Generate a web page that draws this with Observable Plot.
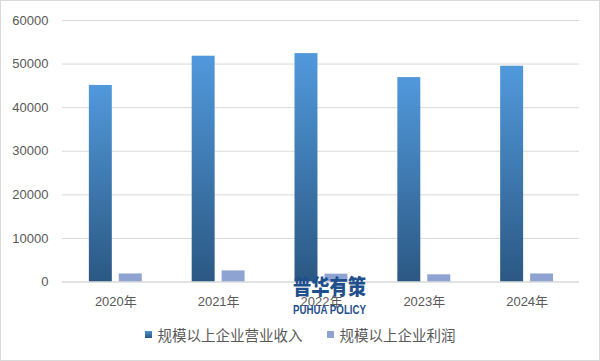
<!DOCTYPE html>
<html>
<head>
<meta charset="utf-8">
<script src="https://cdn.jsdelivr.net/npm/d3@7"></script>
<script src="https://cdn.jsdelivr.net/npm/@observablehq/plot@0.6"></script>
<style>
  html, body { margin: 0; padding: 0; background: #fff; }
  #wrap { position: relative; width: 598px; height: 359px; border: 1px solid #d9d9d9; overflow: hidden; background: #fff;
          font-family: "Liberation Sans", "Noto Sans CJK SC", sans-serif; }
  #chart { position: absolute; left: -1px; top: -1px; }
  #legend { position: absolute; left: 0; top: 323px; width: 598px; display: flex; justify-content: center; gap: 24px;
            font-family: "Noto Sans CJK SC", sans-serif; font-size: 14.5px; color: #595959; }
  .item { display: flex; align-items: center; gap: 6px; }
  .sw { width: 7px; height: 7px; display: inline-block; }
  #wm { position: absolute; left: 0; top: 0; pointer-events: none; }
</style>
</head>
<body>
<div id="wrap">
  <div id="chart"></div>
  <svg id="wm" width="600" height="361"></svg>
  <div id="legend"></div>
</div>
<script>
const years = ["2020年", "2021年", "2022年", "2023年", "2024年"];
const revenue = [45100, 51800, 52400, 46900, 49500];
const profit = [1850, 2550, 1800, 1650, 1850];
const seriesNames = ["规模以上企业营业收入", "规模以上企业利润"];
const yTicks = [0, 10000, 20000, 30000, 40000, 50000, 60000];
const watermark = ["普华有策", "PUHUA POLICY"];

const revData = years.map((y, i) => ({year: y, series: seriesNames[0], value: revenue[i]}));
const profData = years.map((y, i) => ({year: y, series: seriesNames[1], value: profit[i]}));

const chart = Plot.plot({
  width: 600,
  height: 315,
  marginLeft: 62,
  marginRight: 20,
  marginTop: 20,
  marginBottom: 33,
  style: {fontFamily: '"Liberation Sans", "Noto Sans CJK SC", sans-serif', fontSize: "13px", color: "#595959", background: "transparent"},
  x: {domain: years, paddingInner: 0.778, paddingOuter: 0.389, label: null, tickSize: 0, tickPadding: 15},
  y: {domain: [0, 60000], label: null, ticks: yTicks, tickSize: 0, tickPadding: 14, tickFormat: d => String(d)},
  marks: [
    Plot.gridY(yTicks, {stroke: "#d9d9d9", strokeOpacity: 1}),
    Plot.barY(revData, {x: "year", y: "value", fill: "url(#revGrad)", dx: -15}),
    Plot.barY(profData, {x: "year", y: "value", fill: "#8fa3d3", dx: 15}),
    Plot.ruleY([0], {stroke: "#d9d9d9"})
  ]
});

const NS = "http://www.w3.org/2000/svg";
const defs = document.createElementNS(NS, "defs");
const grad = document.createElementNS(NS, "linearGradient");
grad.setAttribute("id", "revGrad");
grad.setAttribute("x1", "0"); grad.setAttribute("y1", "0");
grad.setAttribute("x2", "0"); grad.setAttribute("y2", "1");
[["0%", "#5199dc"], ["100%", "#2b5883"]].forEach(([o, c]) => {
  const s = document.createElementNS(NS, "stop");
  s.setAttribute("offset", o); s.setAttribute("stop-color", c);
  grad.appendChild(s);
});
defs.appendChild(grad);
chart.insertBefore(defs, chart.firstChild);
document.getElementById("chart").appendChild(chart);

// legend
const legend = document.getElementById("legend");
const swatches = ["linear-gradient(#4a8fd0, #2b5883)", "#8fa3d3"];
seriesNames.forEach((n, i) => {
  const it = document.createElement("div");
  it.className = "item";
  const sw = document.createElement("span");
  sw.className = "sw";
  sw.style.background = swatches[i];
  const t = document.createElement("span");
  t.textContent = n;
  it.appendChild(sw); it.appendChild(t);
  legend.appendChild(it);
});

// watermark
const wm = document.getElementById("wm");
const t1 = document.createElementNS(NS, "text");
t1.setAttribute("x", "292"); t1.setAttribute("y", "293");
t1.setAttribute("textLength", "73"); t1.setAttribute("lengthAdjust", "spacingAndGlyphs");
t1.setAttribute("font-family", '"Noto Sans CJK SC", sans-serif');
t1.setAttribute("font-weight", "900"); t1.setAttribute("font-size", "21");
t1.setAttribute("fill", "#1f4f8c");
t1.textContent = watermark[0];
const t2 = document.createElementNS(NS, "text");
t2.setAttribute("x", "292"); t2.setAttribute("y", "313");
t2.setAttribute("textLength", "73"); t2.setAttribute("lengthAdjust", "spacingAndGlyphs");
t2.setAttribute("font-family", '"Liberation Sans", sans-serif');
t2.setAttribute("font-weight", "bold"); t2.setAttribute("font-size", "13");
t2.setAttribute("fill", "#1f4f8c");
t2.textContent = watermark[1];
wm.appendChild(t1); wm.appendChild(t2);
</script>
</body>
</html>
